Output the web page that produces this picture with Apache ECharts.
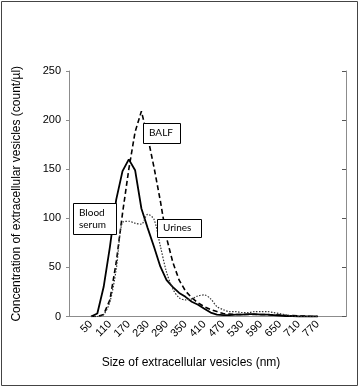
<!DOCTYPE html>
<html>
<head>
<meta charset="utf-8">
<script src="https://cdn.jsdelivr.net/npm/echarts@6/dist/echarts.min.js"></script>
<style>
  html, body { margin: 0; padding: 0; background: #fff; }
  #chart { width: 360px; height: 387px; }
</style>
</head>
<body>
<div id="chart"></div>
<script>
// vesicle size (nm), one point every 20 nm
var sizes = [50, 70, 90, 110, 130, 150, 170, 190, 210, 230, 250, 270, 290, 310, 330, 350, 370, 390,
  410, 430, 450, 470, 490, 510, 530, 550, 570, 590, 610, 630, 650, 670, 690, 710, 730, 750, 770];

var bloodSerum = [0, 3, 30, 71, 119, 148, 160, 149, 110, 90, 71, 51, 37, 30, 24, 20, 15, 12,
  8, 4, 2, 1.5, 1.5, 2, 2, 2.5, 2.5, 2, 2, 1.5, 1, 0.5, 0.5, 0, 0, 0, 0];

var balf = [0, 0, 2, 17, 55, 105, 150, 188, 209, 183, 152, 118, 80, 55, 37, 26, 19, 14,
  10, 7, 5, 3, 2.5, 2, 2, 2, 2, 2, 2, 1.5, 1.5, 1, 1, 0.5, 0.5, 0, 0];

var urines = [0, 0, 2, 15, 48, 96, 97, 95, 94, 104, 99, 72, 45, 28, 19, 17, 18, 21,
  22, 18, 10, 7, 5, 5, 4, 4, 5, 5, 5, 4, 3, 1.5, 0.5, 0, 0, 0, 0];

var tickLabels = [50, 110, 170, 230, 290, 350, 410, 470, 530, 590, 650, 710, 770];

// empty slots on the category axis before and after the data
var padBefore = 3, padAfter = 4;

function pad(arr, fill) {
  var out = [];
  for (var i = 0; i < padBefore; i++) out.push(fill);
  out = out.concat(arr);
  for (var j = 0; j < padAfter; j++) out.push(fill);
  return out;
}

var categories = pad(sizes.map(String), '');

var axisGray = '#8c8c8c';
var font = 'Liberation Sans, Arial, sans-serif';

var myChart = echarts.init(document.getElementById('chart'));

var option = {
  animation: false,
  backgroundColor: '#fff',
  grid: { left: 69, top: 71, right: 14, bottom: 70.5 },
  xAxis: [{
    type: 'category',
    data: categories,
    boundaryGap: true,
    name: 'Size of extracellular vesicles (nm)',
    nameLocation: 'middle',
    nameGap: 40,
    nameTextStyle: { fontFamily: font, fontSize: 12, color: '#000', padding: [0, 33, 0, 0] },
    axisLine: { lineStyle: { color: axisGray } },
    axisTick: { inside: true, length: 4, interval: 0, lineStyle: { color: '#555' } },
    axisLabel: {
      rotate: 45,
      fontFamily: font,
      fontSize: 11,
      color: '#000',
      margin: 6,
      interval: function (index, value) {
        return tickLabels.indexOf(Number(value)) >= 0 && value !== '';
      }
    },
    splitLine: { show: false }
  }, {
    type: 'category',
    data: categories,
    position: 'top',
    boundaryGap: true,
    axisLine: { lineStyle: { color: axisGray } },
    axisTick: { inside: true, length: 4, interval: 0, lineStyle: { color: '#555' } },
    axisLabel: { show: false }
  }],
  yAxis: [{
    type: 'value',
    min: 0,
    max: 250,
    interval: 50,
    name: 'Concentration of extracellular vesicles (count/µl)',
    nameLocation: 'middle',
    nameGap: 46,
    nameTextStyle: { fontFamily: font, fontSize: 12, color: '#000' },
    axisLine: { show: true, lineStyle: { color: axisGray } },
    axisTick: { show: true, length: 3, lineStyle: { color: axisGray } },
    axisLabel: { fontFamily: font, fontSize: 11, color: '#000', margin: 8 },
    splitLine: { show: false }
  }, {
    type: 'value',
    min: 0,
    max: 250,
    interval: 50,
    position: 'right',
    axisLine: { show: true, lineStyle: { color: axisGray } },
    axisTick: { show: true, inside: true, length: 4, lineStyle: { color: '#555' } },
    axisLabel: { show: false },
    splitLine: { show: false }
  }],
  series: [{
    name: 'Blood serum',
    type: 'line',
    data: pad(bloodSerum, null),
    symbol: 'none',
    lineStyle: { color: '#000', width: 1.8, type: 'solid' }
  }, {
    name: 'BALF',
    type: 'line',
    data: pad(balf, null),
    symbol: 'none',
    lineStyle: { color: '#000', width: 1.6, type: [5, 3] }
  }, {
    name: 'Urines',
    type: 'line',
    data: pad(urines, null),
    symbol: 'none',
    smooth: 0.3,
    lineStyle: { color: '#333', width: 1.2, type: [1.5, 1.5] }
  }],
  graphic: [
    { type: 'rect', shape: { x: 1.5, y: 1.5, width: 356, height: 384 },
      style: { fill: 'none', stroke: '#444', lineWidth: 1 }, silent: true },
    { type: 'rect', shape: { x: 143.5, y: 123.5, width: 37, height: 20 },
      style: { fill: '#fff', stroke: '#000', lineWidth: 1 }, z: 10 },
    { type: 'text', left: 149, top: 128, z: 11,
      style: { text: 'BALF', fontFamily: 'Lato, sans-serif', fontSize: 10, fill: '#000' } },
    { type: 'rect', shape: { x: 73.5, y: 203.5, width: 43, height: 31 },
      style: { fill: '#fff', stroke: '#000', lineWidth: 1 }, z: 10 },
    { type: 'text', left: 79, top: 207, z: 11,
      style: { text: 'Blood\nserum', fontFamily: 'Lato, sans-serif', fontSize: 10, lineHeight: 12, fill: '#000' } },
    { type: 'rect', shape: { x: 157.5, y: 219.5, width: 44, height: 18 },
      style: { fill: '#fff', stroke: '#000', lineWidth: 1 }, z: 10 },
    { type: 'text', left: 163, top: 223, z: 11,
      style: { text: 'Urines', fontFamily: 'Lato, sans-serif', fontSize: 10, fill: '#000' } }
  ]
};

myChart.setOption(option);
</script>
</body>
</html>
